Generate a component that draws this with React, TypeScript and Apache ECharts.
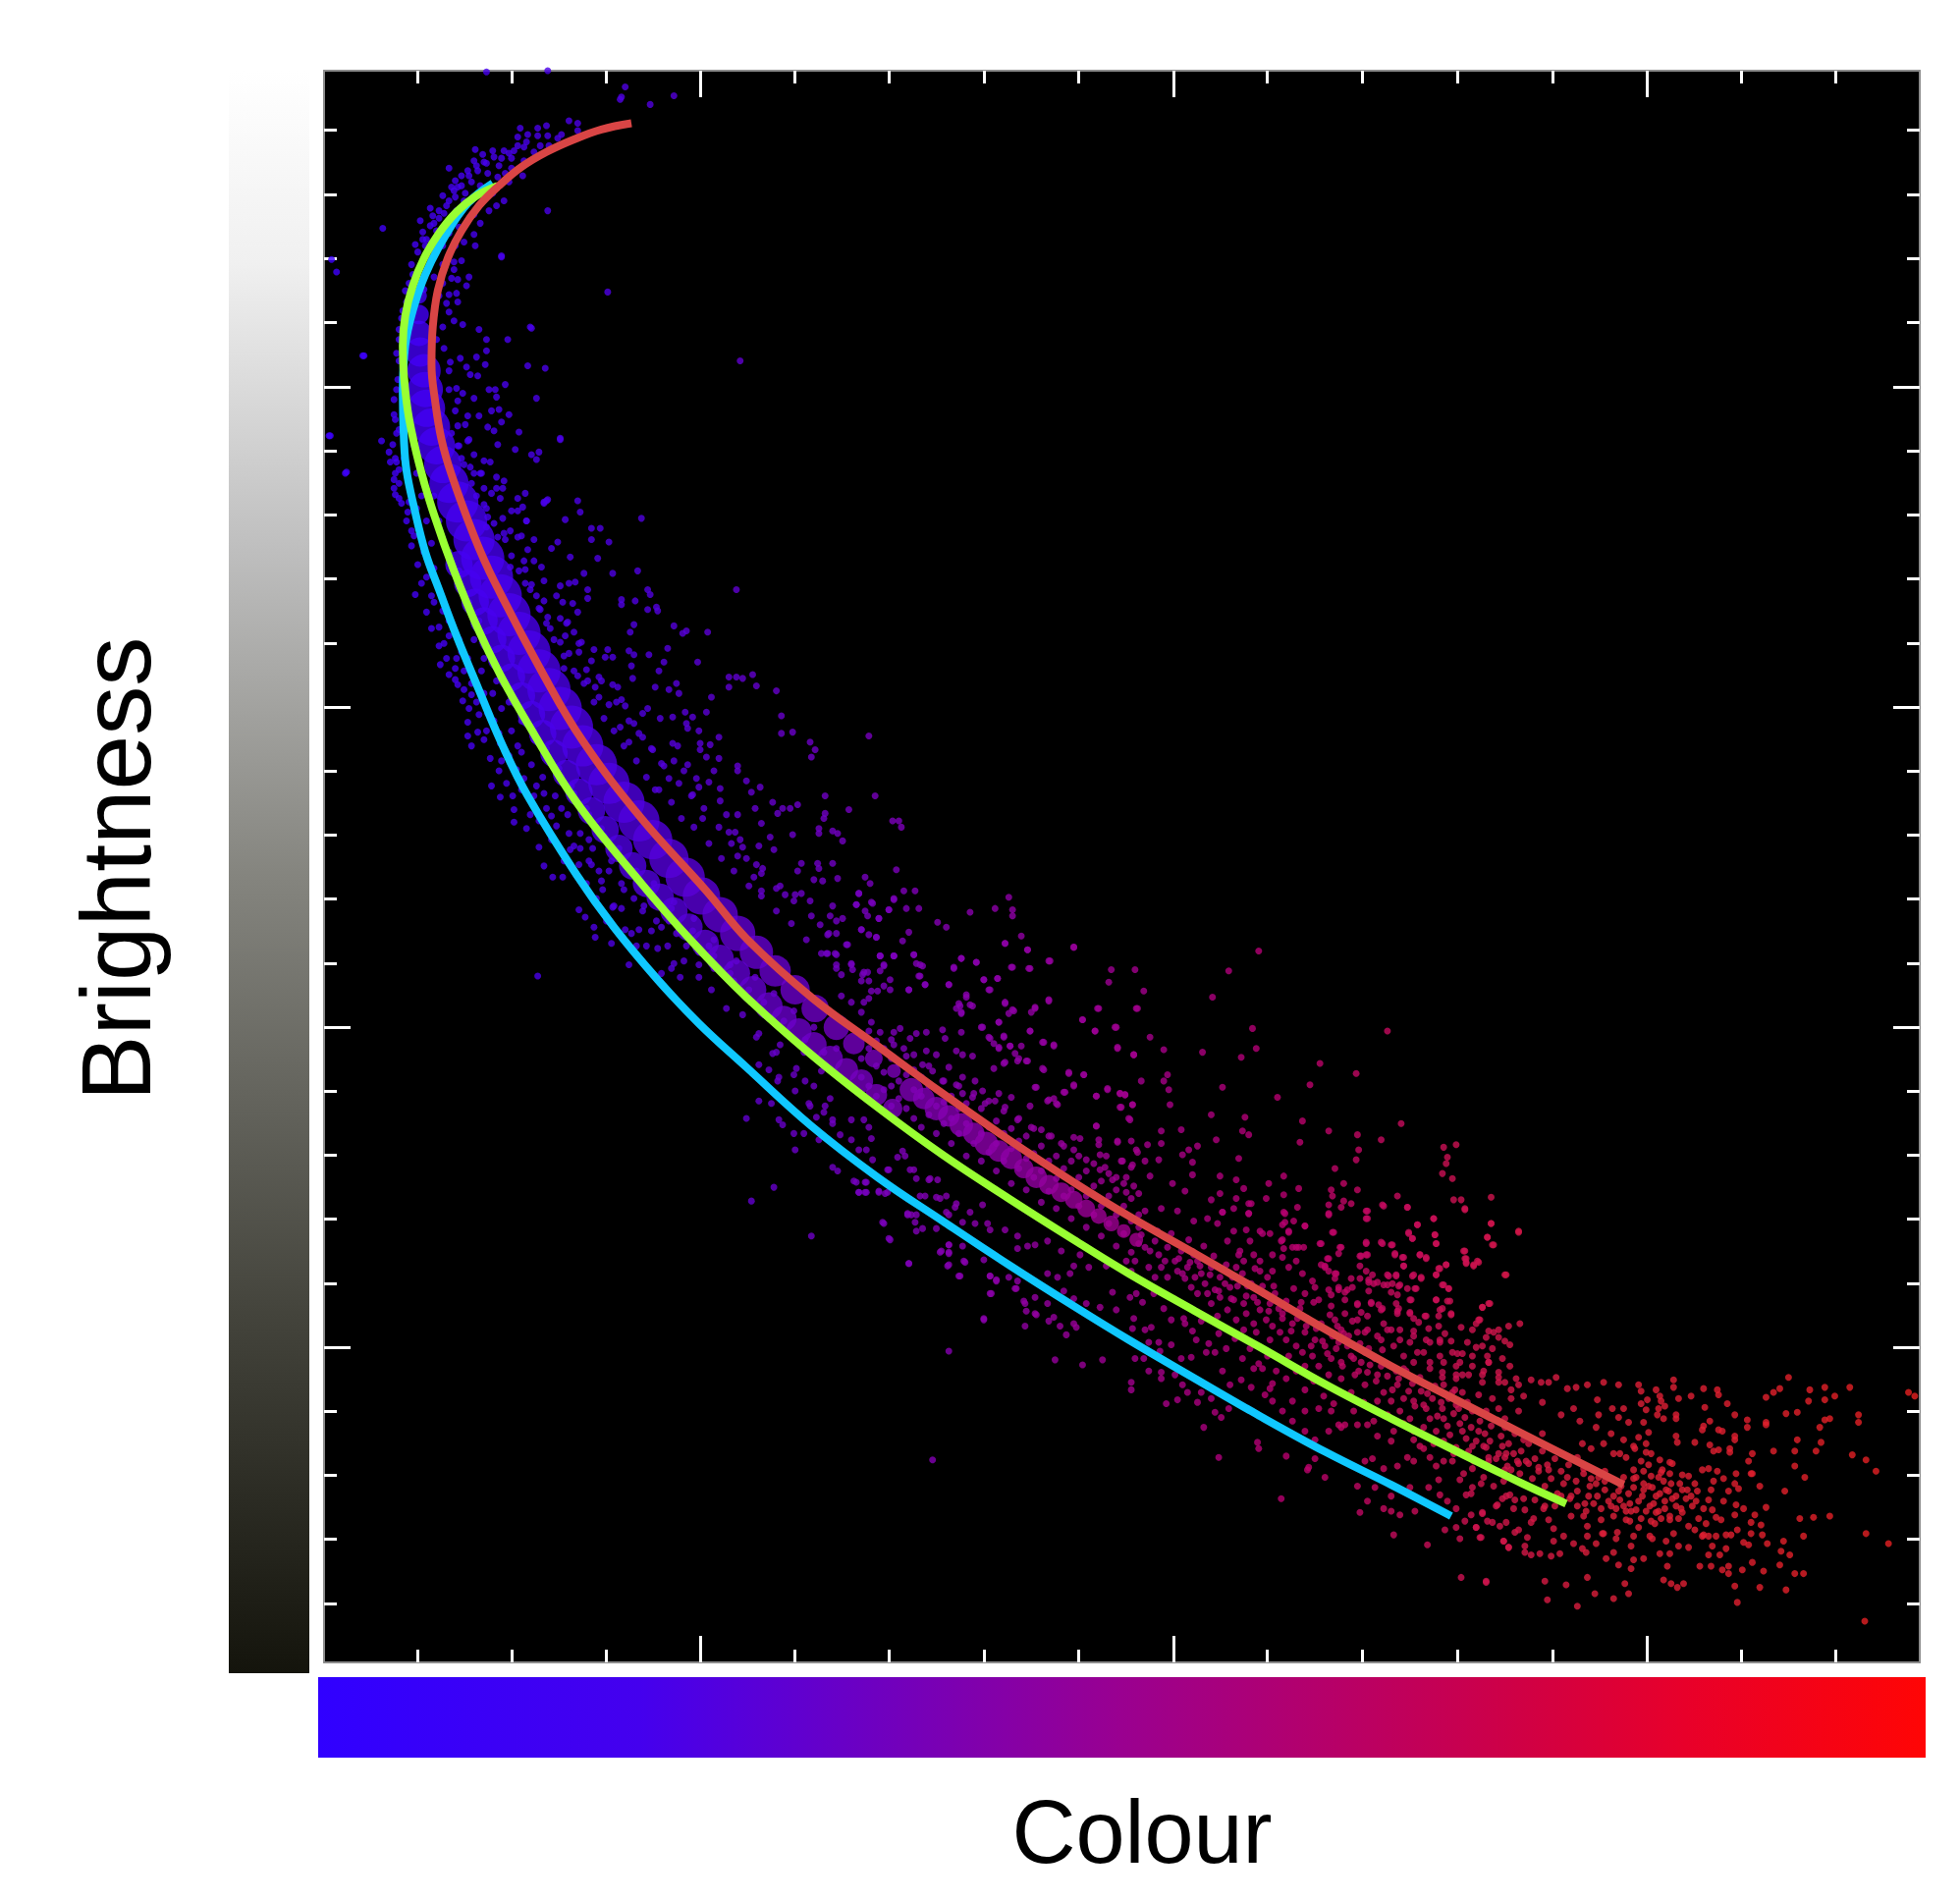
import React, { useEffect, useRef } from "react";
import * as echarts from "echarts";

const xTitle = "Colour";
const yTitle = "Brightness";
const xMajorTicks = [301, 680, 1059];
const xMinorTicks = [75, 150, 226, 377, 452, 528, 604, 755, 831, 907, 983, 1134, 1210];
const yMajorTicks = [253, 509, 765, 1021];
const yMinorTicks = [47, 99, 150, 201, 304, 355, 406, 458, 560, 611, 662, 714, 816, 867, 918, 970, 1072, 1123, 1174, 1226];

const redCurve = [[246,42],[222,47],[200,55],[178,65],[158,77],[140,92],[124,108],[110,128],[99,150],[91,176],[87,205],[86,235],[89,265],[94,295],[102,323],[120,372],[136,408],[175,482],[207,536],[254,598],[306,656],[338,694],[390,741],[443,780],[495,818],[548,855],[600,889],[644,916],[697,946],[749,976],[802,1007],[854,1036],[906,1063],[959,1090],[1040,1131]];
const greenCurve = [[139,92],[122,100],[106,113],[92,130],[80,150],[71,172],[65,196],[63,220],[64,245],[68,278],[77,318],[88,355],[104,400],[123,446],[142,485],[163,522],[202,585],[254,650],[295,697],[338,741],[390,787],[443,829],[495,867],[548,902],[600,935],[644,962],[697,992],[749,1021],[802,1051],[854,1078],[906,1104],[959,1130],[994,1146]];
const cyanCurve = [[135,90],[115,106],[97,132],[81,163],[71,192],[65,220],[63,258],[64,297],[66,320],[72,349],[81,385],[92,415],[106,452],[123,493],[143,540],[163,580],[202,643],[232,685],[267,727],[300,762],[338,797],[390,844],[443,885],[495,920],[548,955],[600,988],[644,1015],[697,1046],[749,1076],[802,1105],[854,1131],[902,1156]];

const denseCore = [[76,180,16],[76,195,20],[76,210,26],[77,225,30],[80,240,34],[81,255,36],[82,270,38],[86,285,38],[90,300,38],[95,315,38],[100,330,40],[107,345,42],[114,360,42],[120,375,42],[127,390,44],[134,405,44],[141,420,44],[148,435,44],[156,450,44],[164,465,44],[172,480,44],[180,495,44],[189,510,44],[198,525,44],[207,540,42],[218,555,42],[228,570,42],[240,585,42],[252,600,42],[263,615,40],[276,630,40],[289,645,40],[302,660,38],[317,675,36],[331,690,36],[346,705,34],[361,720,32],[377,735,30],[393,750,28],[410,765,26],[424,778,22],[440,790,18],[456,800,14],[108,395,28],[115,410,28],[121,425,28],[128,440,28],[135,455,28],[142,470,28],[150,485,28],[158,500,28],[166,515,28],[175,530,28],[184,546,28],[194,562,28],[204,577,28],[214,592,28],[225,607,28],[236,622,28],[247,636,28],[258,650,28],[269,661,28],[280,672,28],[292,685,28],[305,698,28],[317,710,28],[330,722,28],[343,735,28],[356,748,28],[368,758,26],[380,768,26],[392,779,26],[405,790,26],[418,799,24],[430,808,24],[442,819,22],[455,830,20],[470,815,24],[480,822,22],[490,830,24],[500,836,22],[510,843,24],[520,850,22],[530,858,24],[540,864,22],[550,870,22],[560,878,20],[570,885,22],[580,891,20],[590,897,20],[600,903,18],[610,910,18],[620,916,16],[630,922,16],[640,928,14],[650,935,14]];

const dotsTop = [[130,1],[179,0],[241,13],[238,21],[261,27],[280,20],[237,23],[196,40],[203,42],[178,44],[171,46],[157,46],[203,48],[190,51],[187,54],[179,52],[171,52],[163,51],[155,53],[162,57],[173,60],[160,61],[152,64],[144,64],[136,69],[127,67],[121,63],[100,78],[110,84],[123,80],[131,82],[139,85],[159,84],[148,89],[118,89],[107,93],[102,93],[113,98],[105,101],[100,104],[92,112],[87,116],[77,120],[85,124],[144,104],[138,108],[132,112],[125,122],[120,131],[112,137],[121,140],[179,112],[79,129],[79,135],[73,139],[81,140],[142,149],[110,152],[104,153],[71,163],[104,159],[116,165],[102,166],[107,167],[114,172],[65,176],[106,178],[100,179],[107,185],[98,186],[63,192],[100,193],[104,200],[111,203],[60,207],[124,207],[166,206],[60,215],[130,215],[147,215],[130,224],[58,226],[31,228],[122,229],[109,230],[101,233],[129,235],[114,237],[163,236],[177,238],[117,243],[123,244],[59,247],[145,251],[106,254],[132,255],[137,255],[111,258],[138,261],[120,262],[170,262],[56,263],[107,264],[134,272],[140,271],[148,275],[124,276],[56,275],[57,279],[142,281],[115,276],[107,284],[113,283],[131,285],[136,288],[156,289],[60,287],[5,292],[189,295],[46,296],[115,296],[139,299],[55,299],[153,303],[107,300],[52,305],[166,307],[172,305],[120,307],[170,311],[53,313],[58,313],[128,312],[133,313],[117,317],[17,322],[60,319],[120,322],[126,322],[138,325],[56,327],[144,328],[128,334],[138,334],[143,334],[56,334],[57,339],[161,338],[155,342],[141,342],[60,342],[62,346],[203,344],[178,344],[176,346],[128,347],[159,349],[155,352],[205,353],[67,353],[143,358],[254,358],[193,359],[162,360],[131,357],[70,368],[214,366],[221,366],[149,368],[144,370],[139,373],[130,365],[155,373],[168,375],[214,375],[227,177],[333,232],[47,126],[6,151],[10,161],[32,228],[4,292],[18,321],[330,415],[189,294],[165,205],[142,148]];

const dotsTopExtra = [[150,70],[140,76],[130,74],[120,72],[115,80],[125,92],[135,98],[105,88],[95,100],[85,110],[110,110],[120,115],[100,120],[90,128],[108,125],[82,135],[95,140],[105,140],[75,145],[85,150],[95,155],[100,148],[70,155],[88,165],[95,170],[68,170],[80,175],[92,180],[66,185],[88,195],[95,205],[62,198],[90,215],[62,215],[96,222],[100,240],[60,232],[105,272],[100,255],[58,255],[102,290],[110,310],[58,290],[57,310],[57,322],[160,72],[168,65],[180,60],[150,78],[145,82],[148,66],[155,60],[142,70],[135,64],[128,73],[122,76],[116,84],[110,92],[104,96],[98,108],[92,118],[88,122],[96,114],[112,104],[106,112],[118,104],[100,130],[92,136],[88,144]];

const dotsUpperRight = [[176,345],[179,343],[162,360],[228,377],[187,377],[182,382],[163,383],[197,389],[219,390],[174,397],[160,392],[161,399],[208,402],[231,402],[251,400],[149,397],[189,412],[196,410],[201,409],[211,415],[211,422],[161,410],[166,411],[170,420],[176,424],[259,415],[261,419],[238,423],[238,427],[249,424],[191,425],[199,426],[203,433],[259,431],[266,429],[267,432],[173,431],[179,437],[189,438],[195,441],[248,443],[280,444],[287,450],[290,448],[307,449],[245,449],[181,446],[193,452],[200,449],[206,457],[189,457],[196,466],[204,465],[216,463],[227,463],[275,462],[244,464],[225,469],[231,469],[248,467],[260,467],[299,473],[272,473],[246,476],[210,479],[268,480],[192,478],[247,486],[220,485],[324,485],[330,485],[335,486],[343,483],[346,492],[265,493],[324,493],[282,490],[276,495],[284,498],[362,496],[231,491],[235,493],[203,484],[211,488],[217,493],[310,501],[220,501],[238,503],[241,508],[228,507],[259,510],[306,513],[255,514],[289,513],[295,517],[366,516],[269,518],[279,517],[248,522],[290,522],[291,526],[237,525],[366,530],[375,529],[300,528],[316,533],[436,532],[255,533],[389,537],[393,543],[279,538],[283,540],[301,538],[309,539],[301,543],[263,543],[244,537],[390,549],[306,549],[316,550],[280,552],[291,555],[270,554],[288,560],[331,556],[331,560],[312,560],[298,566],[338,568],[308,569],[349,573],[276,566],[265,575],[300,573],[317,574],[342,577],[401,580],[441,580],[295,579],[317,584],[359,585],[379,587],[373,590],[367,590],[363,594],[345,590],[420,591],[401,594],[322,595],[331,595],[400,598],[455,600],[460,600],[462,605],[303,598],[350,602],[396,606],[396,610],[407,608],[411,610],[324,609],[329,609],[375,611],[357,613],[415,616],[333,615],[348,620],[360,623],[335,621],[331,628],[382,634],[395,634],[396,638],[407,634],[379,640],[458,639],[346,635],[351,638],[344,645],[392,647],[399,648],[411,646],[433,645],[437,650],[350,656],[365,652],[369,659],[377,659],[382,658],[428,658],[389,664],[456,662],[426,667],[407,668],[439,666],[433,672],[435,676],[452,671],[444,678],[405,676],[410,680],[415,678],[397,683],[430,687],[436,691],[442,693],[410,690],[403,691],[419,699],[403,706],[409,706],[445,708],[456,708],[422,714],[448,715],[432,721]];

const dotsRedEdge = [[108,300],[112,315],[118,330],[122,340],[130,350],[136,362],[145,375],[150,388],[156,400],[165,415],[172,430],[178,442],[184,455],[192,468],[200,480],[208,490],[216,505],[224,518],[232,528],[240,540],[250,552],[258,565],[268,575],[278,585],[286,598],[296,605],[308,618],[318,630],[328,640],[340,652],[350,660],[362,672],[374,682],[386,695],[398,706],[410,715],[116,295],[125,322],[134,338],[150,352],[158,372],[168,392],[176,408],[186,420],[194,442],[204,458],[214,472],[222,488],[234,505],[244,520],[252,530],[262,542],[272,556],[284,570],[294,580],[304,590],[316,605],[326,618],[338,630],[350,642],[362,654],[376,664],[390,676],[404,690]];

const dotsUpperLeft = [[73,419],[82,433],[86,446],[93,475],[100,483],[107,491],[111,504],[115,521],[123,529],[115,532],[118,540],[134,572],[141,581],[151,580],[152,591],[152,601],[162,606],[172,621],[176,636],[183,645],[191,645],[204,671],[209,677],[216,685],[217,693],[230,698],[171,724],[96,458],[105,487],[118,499],[131,514],[141,538],[154,559],[170,572],[178,590],[186,604],[197,623],[204,635],[214,635],[223,655],[231,669],[241,687],[252,687],[267,702],[280,714],[288,712],[244,715],[278,718],[70,380],[75,395],[82,405],[88,425],[92,445],[98,470],[106,470],[112,480],[116,510],[124,515],[128,535],[133,550],[140,560],[146,570],[158,575],[165,595],[172,600],[182,615],[192,632],[200,620],[210,650],[218,662],[226,680],[238,670],[250,700],[262,688],[275,700],[290,700],[300,715],[100,440],[108,455],[115,470],[126,480],[135,498],[142,510],[150,528],[158,545],[166,555],[175,565],[185,580],[195,595],[205,610],[215,622],[228,640],[240,655],[255,672],[270,685],[282,690],[298,700],[312,708],[325,722],[340,735],[352,745],[368,760],[385,775],[400,785],[310,735],[322,750],[335,755],[348,770],[362,785],[378,798],[392,812],[405,822],[300,725],[285,725],[270,722],[258,700],[246,690],[232,668],[222,648],[212,632],[120,455],[128,470],[138,488],[148,505],[158,520],[168,535],[178,550],[190,565],[200,578],[212,595],[224,612],[236,628],[250,642],[262,655],[278,670],[295,688],[308,700],[325,715],[82,360],[86,378],[74,350],[68,345],[66,285],[72,300],[60,330],[64,310],[74,322],[78,340],[66,360],[72,372],[80,385],[88,398],[78,410],[86,420],[95,432],[100,452],[92,460],[105,478],[110,465],[118,490],[112,495],[122,505],[128,498],[136,520],[130,528],[140,530],[148,548],[142,552],[155,540],[160,566],[168,580],[176,578],[182,596],[190,590],[196,610],[205,622],[212,615],[220,640],[230,632],[238,650],[248,662],[256,668],[266,680],[276,680],[290,692],[300,705],[312,718],[328,728],[342,745],[356,758],[370,770],[384,785],[398,800],[88,340],[92,360],[100,385],[108,400],[116,425],[124,440],[132,462],[140,478],[150,495],[158,510],[168,528],[178,542],[188,558],[198,572],[210,590],[222,606],[236,622],[250,640],[264,650],[280,665],[296,678],[312,695],[330,712],[345,725],[360,738],[376,752],[392,765],[410,782]];

const dotsMidRight = [[428,658],[456,663],[464,656],[473,656],[548,661],[438,665],[426,667],[452,671],[466,670],[476,670],[537,670],[551,671],[517,673],[551,676],[444,678],[491,681],[498,685],[430,687],[468,689],[442,693],[463,696],[558,692],[545,698],[563,703],[600,701],[748,704],[418,699],[445,708],[456,708],[472,707],[510,710],[522,713],[581,712],[504,717],[551,717],[564,718],[630,719],[649,719],[724,720],[477,715],[528,727],[539,726],[476,724],[500,731],[628,729],[481,731],[532,735],[468,735],[656,736],[711,741],[514,739],[580,743],[545,745],[517,747],[509,748],[569,749],[551,751],[566,753],[619,750],[651,750],[510,754],[607,759],[540,761],[526,765],[633,765],[743,766],[851,768],[565,768],[617,768],[661,773],[532,773],[544,772],[575,777],[584,779],[635,781],[672,783],[703,785],[746,782],[549,780],[540,781],[648,787],[734,789],[797,794],[556,790],[563,792],[544,794],[575,798],[826,802],[596,802],[608,803],[675,803],[672,808],[654,808],[789,811],[719,813],[600,811],[627,814],[593,817],[676,815],[637,818],[641,819],[569,813],[763,821],[618,820],[580,823],[586,826],[647,827],[677,827],[637,829],[710,835],[737,837],[644,838],[783,840],[862,842],[618,844],[735,848],[804,848],[686,847],[670,848],[740,851],[827,851],[846,855],[714,855],[781,857],[646,856],[635,857],[659,859],[670,858],[896,861],[906,859],[699,860],[692,863],[828,863],[687,867],[651,865],[826,871],[732,870],[899,869],[898,874],[668,871],[639,872],[695,873],[647,875],[809,878],[657,872],[895,882],[695,883],[661,884],[717,884],[768,884],[903,886],[730,887],[756,890],[679,890],[780,894],[827,895],[806,895],[816,890],[736,894],[689,896],[710,903],[717,898],[754,902],[768,899],[859,900],[934,901],[904,903],[910,903],[807,900],[730,902],[742,906],[822,906],[814,909],[779,909],[848,908],[867,909],[913,911],[835,912],[769,914],[804,915],[740,914],[719,913],[835,918],[888,918],[769,921],[934,922],[875,923],[785,924],[956,929],[772,929],[868,930],[889,931],[931,933],[871,934],[751,930],[808,929],[847,938],[834,938],[890,938],[936,939],[798,938],[855,939],[814,941],[913,944],[857,946],[768,942],[784,941],[877,947],[864,949],[882,950],[913,950],[835,947],[830,948],[804,950],[924,953],[914,953],[898,955],[920,955],[864,956],[893,958],[798,955],[851,963],[858,963],[872,963],[946,963],[878,966],[890,963],[851,971],[860,972],[896,971],[874,974],[836,969],[843,969],[819,975],[809,966],[900,974],[933,986],[870,983],[890,983],[901,984],[927,989],[882,996],[902,995],[872,998],[925,999],[895,990],[844,987],[860,990],[830,993]];

const dotsNearMid = [[402,706],[410,707],[422,715],[445,708],[456,708],[472,707],[474,714],[479,716],[423,719],[448,716],[410,718],[435,721],[445,720],[414,723],[431,723],[430,728],[436,728],[453,727],[448,732],[443,736],[438,736],[453,735],[432,745],[436,742],[468,735],[481,731],[477,724],[500,731],[510,710],[504,718],[522,713],[528,727],[539,726],[533,735],[514,741],[508,746],[519,748],[506,750],[510,753],[545,698],[563,703],[600,701],[550,717],[565,718],[580,712],[580,744],[569,750],[545,746],[552,752],[548,754],[540,761],[527,765],[510,769],[495,767],[482,769],[474,770],[497,774],[533,774],[544,773],[536,778],[506,784],[519,788],[511,787],[540,782],[549,780],[558,780],[553,786],[555,792],[562,792],[545,793],[536,798],[576,777],[584,780],[565,768],[607,759],[617,768],[634,765],[620,750],[650,750],[635,782],[648,787],[576,799],[596,801],[608,803],[570,813],[600,812],[592,817],[618,820],[627,815],[637,818],[641,819],[584,822],[579,824],[565,828],[587,827],[638,829],[647,827],[645,839],[618,844],[620,855],[620,859],[635,856],[600,853],[605,854],[650,863],[638,872],[646,877],[625,877],[626,868],[621,867],[642,885],[634,885],[648,892],[456,779],[464,782],[472,787],[479,795],[487,800],[495,808],[506,811],[511,818],[519,821],[529,826],[537,824],[545,829],[555,839],[566,845],[574,847],[582,852],[590,858],[600,863],[610,871],[621,879],[631,887],[642,897],[445,769],[438,761],[430,753],[422,745],[414,740],[456,769],[461,766],[469,774],[482,784],[490,787],[500,797],[511,805],[521,808],[527,816],[540,818],[550,821]];

const dotsMidLeft = [[424,888],[433,889],[428,897],[433,897],[444,896],[449,898],[452,879],[463,864],[472,879],[484,887],[491,887],[481,900],[493,902],[505,909],[467,914],[474,915],[447,921],[452,934],[468,954],[493,945],[500,939],[500,946],[500,955],[513,953],[509,964],[533,964],[538,967],[554,974],[533,978],[560,984],[562,992],[569,994],[561,1004],[528,998],[580,1000],[589,1004],[594,1011],[602,1005],[500,1024],[585,1031],[607,1035],[623,1031],[487,1111],[346,773],[348,795],[359,786],[365,779],[356,799],[364,805],[376,803],[377,816],[385,808],[388,826],[401,828],[400,833],[407,839],[407,842],[422,839],[432,839],[436,845],[438,854],[422,855],[428,863],[434,863],[439,871],[407,877],[411,880],[426,889],[434,889],[428,897],[434,897],[444,897],[451,897],[451,879],[459,869],[465,868],[469,879],[474,886],[485,886],[477,900],[490,901],[498,900],[500,915],[506,906],[517,913],[527,907],[511,921],[521,922],[531,922],[533,927],[545,927],[555,932],[563,940],[555,942],[569,939],[579,936],[590,944],[600,956],[605,947],[612,957],[626,956],[642,952],[646,960],[597,962],[587,965],[579,962],[555,968],[553,974],[569,981],[561,986],[579,986],[592,976],[600,982],[610,986],[621,989],[634,991],[584,997],[570,995],[645,981],[650,978],[467,915],[473,921],[479,926],[474,928],[490,926],[500,939],[494,944],[500,945],[511,940],[528,951],[512,952],[499,956],[508,964],[533,964],[538,968],[548,965],[534,978],[468,954],[448,922],[453,935],[390,932],[360,893],[342,904],[377,863],[376,850],[384,850],[364,839],[367,843],[394,837],[396,855],[413,851],[338,838],[363,808],[348,824],[358,826],[389,828],[470,915],[498,913],[528,999],[600,1002],[631,977]];

const dotsBandFill = [[430,772],[430,790],[430,805],[436,768],[436,782],[436,812],[442,776],[442,796],[442,820],[448,782],[448,801],[448,815],[454,775],[454,790],[454,812],[454,828],[460,794],[460,808],[460,822],[466,788],[466,803],[466,830],[472,799],[472,815],[472,838],[478,805],[478,820],[478,845],[484,796],[484,812],[484,835],[490,815],[490,828],[490,850],[496,808],[496,825],[496,842],[502,820],[502,838],[502,858],[508,812],[508,830],[508,850],[514,826],[514,842],[514,868],[520,818],[520,836],[520,858],[526,830],[526,850],[526,872],[532,824],[532,845],[532,865],[538,840],[538,858],[538,880],[544,832],[544,850],[544,872],[550,846],[550,862],[550,890],[556,838],[556,856],[556,878],[562,852],[562,870],[562,895],[568,846],[568,866],[568,885],[574,860],[574,880],[574,905],[580,852],[580,872],[580,896],[586,868],[586,886],[586,910],[592,860],[592,878],[592,900],[598,872],[598,895],[598,918],[604,868],[604,885],[604,908],[610,880],[610,900],[610,925],[616,874],[616,892],[616,915],[622,888],[622,908],[622,932],[628,882],[628,900],[628,922],[634,895],[634,915],[634,940],[640,890],[640,908],[640,930],[646,902],[646,920],[646,945],[652,898],[652,915],[652,938]];

const dotsBandLower = [[654,931],[665,936],[657,941],[649,952],[668,947],[675,941],[681,952],[670,957],[660,957],[683,960],[691,957],[696,947],[689,966],[694,973],[675,965],[665,965],[702,962],[710,957],[717,965],[699,978],[707,978],[710,986],[717,981],[725,973],[733,967],[728,983],[736,986],[744,981],[723,991],[715,996],[730,999],[738,994],[749,991],[757,986],[754,999],[744,1002],[736,1007],[746,1009],[759,1004],[767,994],[775,1002],[765,1009],[757,1015],[770,1015],[778,1020],[785,1009],[793,1015],[783,1025],[772,1028],[791,1028],[801,1020],[812,1017],[806,1030],[796,1036],[785,1036],[814,1033],[822,1028],[830,1033],[825,1043],[814,1046],[804,1043],[835,1041],[843,1043],[833,1051],[822,1057],[848,1057],[859,1051],[843,1064],[854,1064],[864,1062],[872,1064],[880,1067],[861,1072],[851,1075],[869,1078],[885,1078],[896,1078],[880,1085],[872,1088],[890,1088],[901,1091],[911,1088],[906,1101],[896,1096],[922,1096],[916,1104],[930,1101],[940,1106],[932,1112],[945,1109],[956,1114],[950,1119],[655,985],[664,978],[672,990],[680,982],[688,998],[695,1008],[702,1000],[708,1018],[716,1010],[722,1022],[729,1014],[735,1030],[741,1022],[748,1034],[755,1028],[762,1040],[770,1046],[778,1040],[785,1055],[792,1048],[800,1060],[808,1066],[816,1058],[824,1072],[832,1065],[840,1080],[848,1075],[856,1088],[864,1082],[872,1095],[880,1102],[888,1098],[896,1112],[904,1106],[912,1122],[920,1112],[928,1125],[936,1132],[944,1128],[952,1150],[960,1142],[968,1158],[976,1150],[984,1166],[992,1172],[1000,1178],[1010,1185],[1018,1178],[1026,1190],[1034,1174]];

const dotsBandUpper = [[657,912],[670,910],[683,912],[696,920],[707,918],[715,922],[728,928],[738,927],[749,928],[757,930],[767,935],[775,941],[780,941],[741,936],[723,936],[733,944],[744,947],[749,952],[759,947],[767,949],[778,952],[772,957],[759,960],[749,960],[736,952],[730,957],[783,962],[791,968],[801,957],[809,962],[793,973],[804,975],[812,973],[785,978],[796,983],[806,988],[817,983],[827,986],[817,994],[809,999],[827,999],[838,986],[846,991],[835,996],[848,1002],[859,994],[869,994],[833,1009],[843,1012],[854,1007],[861,1015],[872,1012],[885,1017],[880,1025],[893,1015],[896,1033],[885,1038],[872,1033],[903,1025],[909,1033],[919,1028],[906,1043],[916,1043],[932,1033],[940,1041],[927,1049],[945,1049],[956,1051],[935,1062],[950,1062],[940,1070],[956,1072],[924,1059],[911,1057],[903,1057],[896,1051],[906,1067],[919,1072],[930,1072],[945,1078],[652,925],[661,944],[667,928],[673,952],[678,930],[686,944],[692,935],[699,952],[704,940],[712,948],[716,976],[722,955],[727,965],[732,947],[739,972],[745,958],[751,972],[755,965],[761,978],[764,990],[770,984],[776,974],[781,990],[787,998],[792,985],[798,1002],[805,995],[811,1004],[816,1010],[823,1000],[829,1018],[836,1022],[841,1030],[847,1023],[852,1035],[858,1040],[866,1040],[871,1050],[877,1045],[883,1058],[889,1052],[894,1065],[900,1062],[908,1070],[913,1077],[918,1085],[925,1080],[929,1090],[934,1084],[942,1092],[948,1098],[953,1090],[958,1104],[964,1098],[969,1110],[975,1104],[979,1115],[985,1110],[990,1120],[996,1115],[1002,1128],[1008,1118],[1013,1132],[1020,1125]];

const dotsRidge = [[684,950],[687,962],[693,953],[697,965],[701,956],[705,970],[709,963],[713,975],[718,958],[721,970],[726,982],[731,972],[735,962],[738,980],[742,970],[747,985],[752,978],[756,992],[760,972],[763,984],[767,998],[771,990],[774,1008],[779,998],[782,985],[786,1004],[790,1020],[794,1006],[799,1016],[803,1026],[807,1012],[810,1022],[815,1036],[819,1020],[824,1030],[828,1040],[833,1025],[837,1035],[842,1048],[846,1036],[851,1044],[855,1055],[860,1046],[864,1038],[868,1056],[873,1068],[878,1056],[882,1070],[887,1062],[891,1076],[895,1070],[899,1084],[904,1074],[909,1082],[914,1094],[919,1100],[924,1088],[928,1100],[933,1096],[938,1110],[943,1100],[947,1116],[952,1106],[957,1122],[962,1112],[967,1126],[972,1120],[977,1132],[982,1126],[987,1138],[992,1130],[997,1142],[1003,1136],[1009,1146],[1014,1126],[1019,1140],[1025,1128],[1030,1148],[1036,1136],[1042,1152],[1050,1125],[1055,1140],[1060,1132],[1064,1146],[1069,1138],[1073,1150],[1078,1130],[1082,1140],[1086,1150],[1090,1142],[1058,1152],[1052,1144],[1044,1138],[1038,1132],[1068,1152],[1076,1136],[1072,1128],[1062,1124],[1056,1120],[1048,1126],[1084,1158],[1094,1140],[1098,1144],[1104,1150],[1106,1162],[1070,1158],[1062,1160],[1054,1158],[1046,1152],[1040,1148],[1034,1150],[1028,1144],[1022,1150],[1016,1146],[1010,1152]];

const dotsZoomA = [[740,906],[728,910],[719,913],[740,914],[768,913],[804,907],[804,914],[816,904],[834,912],[834,918],[847,907],[867,909],[888,918],[913,910],[776,920],[767,923],[785,924],[772,928],[807,929],[875,923],[934,922],[868,929],[889,931],[871,934],[956,928],[931,933],[890,938],[935,939],[834,937],[846,937],[854,939],[797,938],[766,936],[813,941],[778,941],[912,944],[857,947],[877,947],[812,946],[834,947],[882,949],[863,949],[914,950],[923,952],[920,956],[914,954],[803,950],[829,956],[829,948],[898,955],[892,958],[864,956],[801,956],[804,960],[810,962],[834,960],[839,963],[852,964],[858,964],[871,964],[878,965],[945,963],[890,963],[829,966],[822,966],[836,967],[840,970],[848,971],[855,970],[895,971],[900,974],[873,974],[861,971],[867,974],[823,973],[812,975],[806,979],[817,977],[836,976],[859,979],[854,977],[890,983],[899,984],[869,983],[927,989],[932,986],[881,996],[892,996],[869,993],[902,994],[893,991],[858,986],[838,985],[827,987],[847,990],[859,992],[876,1001],[884,1006],[892,1004],[924,999],[922,1002],[910,1005],[948,1004],[919,1007],[940,1007],[932,1008],[936,1009],[897,1010],[957,1002],[940,1013],[945,1016],[949,1019],[915,1017],[922,1021],[930,1013],[927,1020],[935,1022],[902,1016],[893,1017],[882,1015],[872,1008],[861,1007],[869,1017],[851,1007],[907,1026],[911,1026],[931,1028],[943,1030],[949,1036],[954,1046],[932,1033],[919,1036],[906,1036],[893,1028],[911,1043],[927,1043],[940,1049],[906,1046],[895,1041],[885,1033],[875,1025],[864,1028],[856,1020],[846,1015],[835,1007],[827,1009],[820,1012],[814,1007],[648,998],[647,1006],[657,1007],[662,1005],[668,1017],[678,1019],[660,1017],[669,1024],[656,1030],[649,1030],[660,1040],[670,1041],[670,1046],[681,1043],[686,1030],[694,1029],[646,1049],[646,1055],[674,1066],[683,1063],[687,1051],[691,1057],[699,1065],[702,1057],[710,1062],[713,1073],[718,1077],[704,1085],[716,1109],[724,1070],[747,1097],[748,1102],[770,1108],[766,1142],[856,1171],[883,1179],[910,1205],[930,1209],[829,1153],[841,1133],[793,1110],[788,1117],[787,1119],[801,1125],[827,1132],[835,1144],[848,1150],[854,1152],[861,1155],[873,1152],[854,1140],[869,1133],[884,1133],[892,1127],[893,1139],[899,1144],[906,1150],[913,1160],[918,1155],[927,1154],[931,1160],[922,1165],[906,1165],[897,1167],[909,1174],[926,1173],[944,1176],[948,1181],[941,1164],[956,1167],[939,1147],[943,1142],[949,1139],[918,1138],[914,1139],[919,1133],[926,1130],[909,1127],[890,1116],[872,1112],[859,1116],[848,1118],[839,1110],[833,1112],[814,1085],[812,1083],[804,1088],[793,1095],[785,1088],[775,1080],[767,1072],[759,1064],[757,1054],[753,1059],[742,1053],[734,1047],[725,1051],[719,1040],[713,1025],[706,1025],[698,1015],[689,1002],[678,999],[744,1038],[751,1038],[759,1050],[775,1064],[785,1072],[796,1070],[806,1072],[817,1083],[827,1083],[835,1083],[843,1092],[854,1096],[867,1109],[877,1100],[885,1109],[903,1112],[919,1118],[932,1109],[945,1119]];

const dotsRightEnd = [[1172,1045],[1221,1053],[1268,1057],[1273,1060],[1189,1055],[1201,1053],[1209,1060],[1201,1063],[1188,1064],[1165,1054],[1160,1057],[1154,1061],[1170,1074],[1179,1073],[1228,1075],[1228,1081],[1205,1078],[1201,1079],[1197,1085],[1154,1081],[1154,1083],[1139,1079],[1139,1085],[1129,1075],[1123,1066],[1115,1055],[1116,1059],[1104,1054],[1105,1069],[1094,1060],[1084,1062],[1080,1047],[1080,1053],[1066,1055],[1069,1060],[1070,1064],[1054,1056],[1052,1051],[1059,1063],[1054,1066],[1073,1068],[1068,1070],[1058,1071],[1067,1075],[1072,1078],[1082,1075],[1082,1078],[1109,1080],[1104,1084],[1103,1087],[1116,1087],[1119,1088],[1129,1092],[1129,1095],[1082,1092],[1083,1097],[1097,1097],[1109,1099],[1112,1104],[1116,1103],[1125,1102],[1125,1105],[1143,1106],[1140,1112],[1160,1104],[1177,1104],[1179,1095],[1198,1097],[1194,1104],[1223,1107],[1234,1111],[1242,1120],[1177,1116],[1185,1125],[1143,1122],[1142,1122],[1130,1122],[1115,1120],[1103,1119],[1108,1118],[1149,1132],[1169,1136],[1154,1149],[1181,1158],[1192,1157],[1205,1156],[1184,1172],[1234,1170],[1252,1178],[1168,1176],[1166,1184],[1173,1187],[1165,1195],[1155,1178],[1143,1193],[1177,1202],[1184,1202],[1152,1200],[1135,1199],[1149,1213],[1170,1215],[1129,1212],[1131,1225],[1233,1240],[1124,1196],[1124,1202],[1119,1199],[1110,1196],[1101,1196],[1088,1210],[1083,1213],[1078,1210],[1072,1207],[1075,1196],[1044,1218],[1032,1222],[1017,1218],[1003,1228],[979,1223],[994,1211],[977,1208],[1011,1205],[930,1208],[1041,1210],[1046,1198],[1036,1195],[1056,1190],[1048,1191],[1069,1186],[1108,1187],[1117,1187],[1111,1180],[1122,1182],[1136,1177],[1140,1179],[1129,1155],[1136,1150],[1145,1155],[1150,1163],[1142,1161],[1151,1171],[1142,1170],[1131,1167],[1122,1171],[1126,1171],[1114,1172],[1108,1172],[1104,1171],[1118,1159],[1114,1157],[1111,1151],[1120,1144],[1108,1143],[1130,1147],[1129,1130],[1132,1134],[1120,1126],[1112,1128],[1110,1135],[1124,1136],[1099,1136],[1097,1130],[1091,1135],[1087,1123],[1092,1124],[1077,1113],[1079,1114],[1071,1119],[1069,1111],[1062,1106],[1058,1105],[1052,1093],[1048,1100],[1060,1089],[1036,1077],[1044,1081],[1056,1081],[1031,1070],[1019,1063],[1011,1051],[1024,1049],[1036,1051],[995,1054],[1002,1053],[986,1045],[980,1049],[974,1049],[966,1047],[1056,1135],[1066,1140],[1074,1135],[1079,1142],[1087,1135],[1082,1148],[1073,1144],[1061,1148],[1050,1151],[1045,1146],[1056,1130],[1048,1133],[1037,1143],[1032,1140],[1063,1133],[1077,1122],[1070,1121],[1048,1119],[1054,1112],[1042,1109],[1049,1102],[1058,1098],[1037,1106],[1032,1106],[1024,1098],[1014,1102],[1007,1098],[1003,1109],[1008,1122],[995,1125],[990,1106],[980,1119],[972,1117],[964,1114],[955,1112],[946,1106],[1061,1172],[1066,1153],[1077,1159],[1087,1153],[1092,1164],[1103,1172],[1074,1176],[1063,1174],[1048,1172],[1042,1159],[1035,1169],[1024,1170],[1032,1156],[1022,1159],[1008,1156],[1011,1164],[998,1156],[1003,1148],[990,1140],[998,1140],[985,1148],[977,1148],[969,1143],[961,1151],[953,1143],[946,1140],[938,1148],[980,1159],[966,1161],[953,1169],[946,1161],[935,1161],[927,1153],[922,1165],[925,1173],[944,1176],[948,1181],[961,1180],[963,1173],[961,1185],[973,1186],[966,1187],[984,1176],[982,1188],[989,1186],[1007,1182],[1011,1172],[1023,1170],[1046,1180],[1032,1185],[1077,1186],[1084,1180],[1092,1181],[1097,1167],[1077,1156],[1040,1125],[1025,1120],[1018,1130],[1012,1140],[1025,1135],[1045,1160],[1052,1165],[1065,1162],[1080,1170],[1095,1148],[1100,1158],[1068,1125],[1085,1130],[1060,1115],[1040,1095],[1030,1090],[1018,1085],[1005,1080],[990,1075],[975,1065],[960,1060],[950,1055],[940,1045],[928,1040],[1000,1070],[1020,1075],[1040,1070],[975,1090],[960,1095],[945,1085],[930,1075],[915,1065],[905,1055],[895,1045]];

const colourStops = ["#3d00ff", "#5000e0", "#8800b0", "#b80070", "#dd1f3a", "#e62020"];
const barStops = [[0, "#3000ff"], [0.2, "#4400ee"], [0.5, "#9a0090"], [0.75, "#d00044"], [0.85, "#e8002a"], [1, "#ff0505"]];
const greyStops = [[0, "#ffffff"], [0.12, "#f0f0f0"], [0.3, "#bebebe"], [0.5, "#85857f"], [0.775, "#44443c"], [1, "#14140c"]];

const allDots = [...dotsTop, ...dotsTopExtra, ...dotsUpperRight, ...dotsRedEdge, ...dotsUpperLeft, ...dotsMidRight, ...dotsNearMid, ...dotsMidLeft, ...dotsBandFill, ...dotsBandLower, ...dotsBandUpper, ...dotsRidge, ...dotsZoomA, ...dotsRightEnd];

function tickAxis(dim: "x" | "y", position: string, values: number[], length: number, line: boolean) {
  const isX = dim === "x";
  return {
    type: "value",
    position,
    min: 0,
    max: isX ? 1277 : 1273,
    inverse: !isX,
    splitLine: { show: false },
    axisLabel: { show: false },
    axisLine: { show: line, onZero: false, lineStyle: { color: "#8c8c8c", width: 2 } },
    axisTick: { show: true, inside: true, length, customValues: values, lineStyle: { color: "#ffffff", width: 3 } },
  };
}

function lineSeries(name: string, data: number[][], color: string) {
  return {
    name,
    type: "line",
    data,
    smooth: 0.4,
    showSymbol: false,
    z: 5,
    lineStyle: { color, width: 8 },
    itemStyle: { color },
    emphasis: { disabled: true },
  };
}

export default function App() {
  const ref = useRef<HTMLDivElement>(null);
  useEffect(() => {
    const chart = echarts.init(ref.current!, undefined, { renderer: "svg" });
    chart.setOption({
      animation: false,
      backgroundColor: "#ffffff",
      grid: { left: 330, top: 72, width: 1625, height: 1621, show: true, backgroundColor: "#000000", borderWidth: 0 },
      xAxis: [
        tickAxis("x", "bottom", xMajorTicks, 27, true),
        tickAxis("x", "top", xMajorTicks, 27, true),
        tickAxis("x", "bottom", xMinorTicks, 13, false),
        tickAxis("x", "top", xMinorTicks, 13, false),
      ],
      yAxis: [
        tickAxis("y", "left", yMajorTicks, 27, true),
        tickAxis("y", "right", yMajorTicks, 27, true),
        tickAxis("y", "left", yMinorTicks, 13, false),
        tickAxis("y", "right", yMinorTicks, 13, false),
      ],
      visualMap: {
        show: false,
        type: "continuous",
        seriesIndex: [0, 1],
        dimension: 0,
        min: 0,
        max: 1277,
        inRange: { color: colourStops },
      },
      series: [
        { name: "dense core", type: "scatter", data: denseCore, symbolSize: (v: number[]) => v[2], z: 3, silent: true },
        { name: "stars", type: "scatter", data: allDots, symbolSize: 7, z: 3, silent: true },
        lineSeries("cyan", cyanCurve, "#10c8ff"),
        lineSeries("green", greenCurve, "#99ff33"),
        lineSeries("red", redCurve, "#d94545"),
      ],
      graphic: [
        {
          type: "rect",
          shape: { x: 233, y: 72, width: 82, height: 1632 },
          style: { fill: new echarts.graphic.LinearGradient(0, 0, 0, 1, greyStops.map(([offset, color]) => ({ offset, color }))) },
        },
        {
          type: "rect",
          shape: { x: 324, y: 1708, width: 1637, height: 82 },
          style: { fill: new echarts.graphic.LinearGradient(0, 0, 1, 0, barStops.map(([offset, color]) => ({ offset, color }))) },
        },
        {
          type: "text",
          x: 1163,
          y: 1866,
          style: { text: xTitle, font: '90px "Liberation Sans"', fill: "#000000", align: "center", verticalAlign: "middle" },
        },
        {
          type: "text",
          x: 118,
          y: 885,
          rotation: Math.PI / 2,
          style: { text: yTitle, font: '100px "Liberation Sans"', fill: "#000000", align: "center", verticalAlign: "middle" },
        },
      ],
    });
    return () => chart.dispose();
  }, []);
  return <div ref={ref} style={{ position: "absolute", left: 0, top: 0, width: 1996, height: 1936 }} />;
}
